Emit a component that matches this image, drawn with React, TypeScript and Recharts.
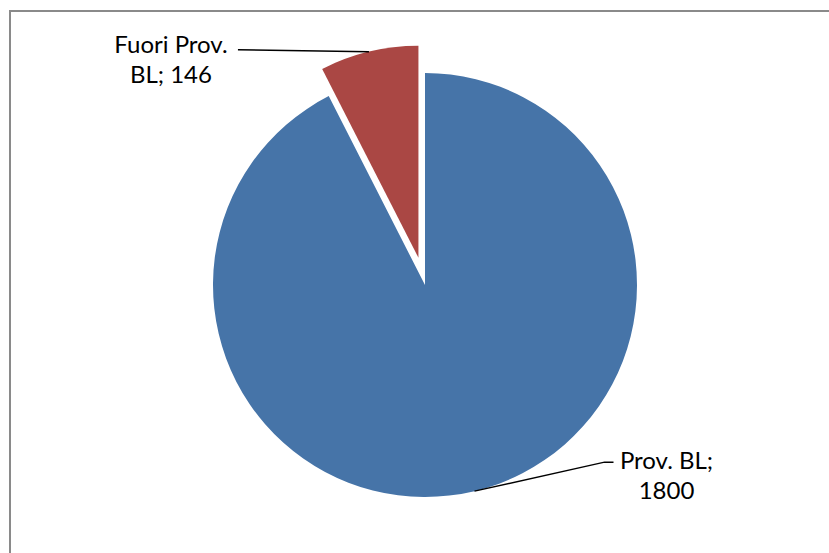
import React from 'react';
import { PieChart, Pie, Cell } from 'recharts';

const NAMES = ['Prov. BL', 'Fuori Prov. BL'];
const VALUES = [1800, 146];
const COLORS = ['#4674a8', '#aa4744'];

const data = NAMES.map((name, i) => ({ name, value: VALUES[i] }));
const total = VALUES.reduce((a, b) => a + b, 0);

const RADIAN = Math.PI / 180;
// the chart's default 5px margin is added to cx / cy
const CX = 420;
const CY = 280;
const R = 212;
const EXPLODE = 28;

// mid angle of the exploded (second) slice, clockwise from 12 o'clock
const redMid = 90 - 360 * (VALUES[0] + VALUES[1] / 2) / total;
const redCx = CX + EXPLODE * Math.cos(redMid * RADIAN);
const redCy = CY - EXPLODE * Math.sin(redMid * RADIAN);

const wrap = (text: string, max: number) => {
    const lines: string[] = [];
    let cur = '';
    text.split(' ').forEach((w) => {
        if (cur && (cur + ' ' + w).length > max) {
            lines.push(cur);
            cur = w;
        } else {
            cur = cur ? cur + ' ' + w : w;
        }
    });
    if (cur) lines.push(cur);
    return lines;
};

const makeLabel = (only: number) => (props: any) => {
    const { cx, cy, midAngle, outerRadius, index, name, value } = props;
    if (index !== only) return null;
    const sx = cx + outerRadius * Math.cos(-midAngle * RADIAN);
    const sy = cy + outerRadius * Math.sin(-midAngle * RADIAN);
    const lines = wrap(`${name}; ${value}`, 11);
    let points: string;
    let tx: number;
    let ty: number;
    if (index === 0) {
        const ex = sx + 130;
        const ey = sy - 29;
        points = `${sx},${sy} ${ex},${ey} ${ex + 9},${ey}`;
        tx = ex + 62;
        ty = ey - 3;
    } else {
        const ex = sx - 131;
        const ey = sy - 2;
        points = `${sx},${sy} ${ex},${ey}`;
        tx = ex - 67;
        ty = ey - 6;
    }
    return (
        <g>
            <polyline points={points} fill="none" stroke="#000" strokeWidth={1.5} />
            <text x={tx} y={ty} textAnchor="middle" fill="#000" fontSize={24} fontFamily="Lato, sans-serif">
                {lines.map((l, i) => (
                    <tspan key={i} x={tx} y={ty + i * 30} dominantBaseline="central">{l}</tspan>
                ))}
            </text>
        </g>
    );
};

export default function App() {
    return (
        <div style={{ position: 'absolute', left: 0, top: 0, width: 829, height: 553, overflow: 'hidden', background: '#fff' }}>
            <div style={{ position: 'absolute', left: 9, top: 10, width: 900, height: 600, borderTop: '2px solid #8a8a8a', borderLeft: '2px solid #8a8a8a' }} />
            <div style={{ position: 'absolute', left: 0, top: 0 }}>
                <PieChart width={829} height={553}>
                    <Pie
                        data={data}
                        dataKey="value"
                        nameKey="name"
                        cx={CX}
                        cy={CY}
                        outerRadius={R}
                        startAngle={90}
                        endAngle={-270}
                        stroke="none"
                        labelLine={false}
                        label={makeLabel(0)}
                        isAnimationActive={false}
                    >
                        {data.map((_, i) => (
                            <Cell key={`a-${i}`} fill={i === 0 ? COLORS[0] : 'none'} />
                        ))}
                    </Pie>
                    <Pie
                        data={data}
                        dataKey="value"
                        nameKey="name"
                        cx={redCx}
                        cy={redCy}
                        outerRadius={R}
                        startAngle={90}
                        endAngle={-270}
                        stroke="none"
                        labelLine={false}
                        label={makeLabel(1)}
                        isAnimationActive={false}
                    >
                        {data.map((_, i) => (
                            <Cell key={`b-${i}`} fill={i === 1 ? COLORS[1] : 'none'} />
                        ))}
                    </Pie>
                </PieChart>
            </div>
        </div>
    );
}
